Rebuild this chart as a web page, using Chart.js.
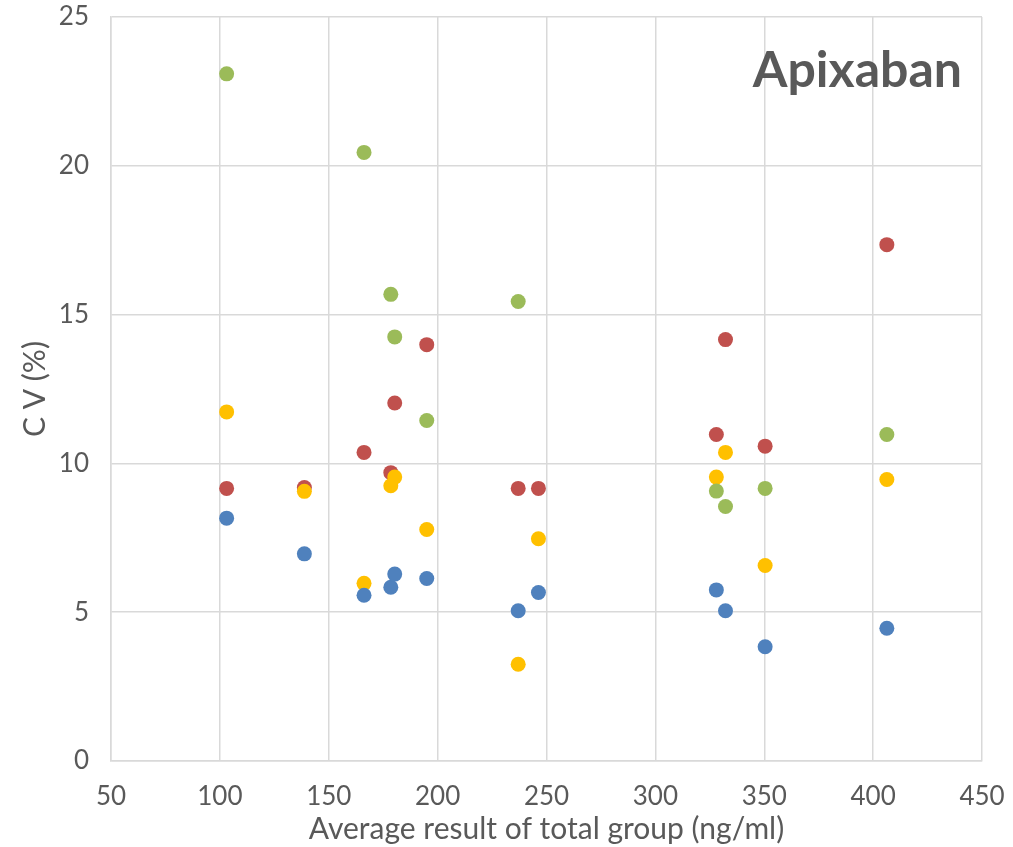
<!DOCTYPE html>
<html>
<head>
<meta charset="utf-8">
<script src="https://cdn.jsdelivr.net/npm/chart.js@4"></script>
<style>
  html, body { margin: 0; padding: 0; background: #fff; }
  #wrap { width: 1013px; height: 847px; position: relative; }
</style>
</head>
<body>
<div id="wrap"><canvas id="c" width="1013" height="847"></canvas></div>
<script>
// Average result of total group (ng/ml) for each sample
const avgResult = [103.1, 138.8, 166.2, 178.5, 180.3, 195.0, 237.0, 246.3, 328.0, 332.2, 350.4, 406.3];

// CV (%) per group; null where no point is plotted
const cvBlue   = [8.16, 6.96, 5.57, 5.84, 6.28, 6.13, 5.05, 5.66, 5.75, 5.05, 3.84, 4.46];
const cvRed    = [9.16, 9.19, 10.37, 9.69, 12.03, 13.99, 9.16, 9.16, 10.97, 14.16, 10.58, 17.35];
const cvYellow = [11.73, 9.06, 5.97, 9.25, 9.54, 7.78, 3.25, 7.47, 9.54, 10.37, 6.57, 9.46];
const cvGreen  = [23.09, null, 20.45, 15.68, 14.25, 11.44, 15.44, null, 9.07, 8.55, 9.16, 10.97];

const xTicks = [50, 100, 150, 200, 250, 300, 350, 400, 450];
const yTicks = [0, 5, 10, 15, 20, 25];
const chartTitle = 'Apixaban';

const toPoints = vals => avgResult.map((x, i) => ({ x, y: vals[i] })).filter(p => p.y !== null);

const textGrey = '#595959';
const gridGrey = '#d9d9d9';
const font = 'Lato, "Open Sans", sans-serif';

const series = [
  { label: 'Green',  values: cvGreen,  color: '#9bbb59' },
  { label: 'Blue',   values: cvBlue,   color: '#4f81bd' },
  { label: 'Yellow', values: cvYellow, color: '#ffc000' },
  { label: 'Red',    values: cvRed,    color: '#c0504d' }
];

// Bold drug name in the upper-right corner of the plot area
const cornerTitle = {
  id: 'cornerTitle',
  afterDatasetsDraw(chart) {
    const { ctx, chartArea } = chart;
    ctx.save();
    ctx.font = 'bold 50px ' + font;
    ctx.fillStyle = textGrey;
    ctx.textAlign = 'right';
    ctx.textBaseline = 'alphabetic';
    ctx.fillText(chartTitle, chartArea.right - 20, 87);
    ctx.restore();
  }
};

new Chart(document.getElementById('c'), {
  type: 'scatter',
  data: {
    datasets: series.map(s => ({
      label: s.label,
      data: toPoints(s.values),
      backgroundColor: s.color,
      borderColor: s.color,
      borderWidth: 0,
      pointRadius: 7.5,
      pointHoverRadius: 7.5
    }))
  },
  options: {
    responsive: false,
    animation: false,
    layout: { padding: { top: 17, right: 31, left: 0, bottom: 0 } },
    plugins: { legend: { display: false }, tooltip: { enabled: false } },
    scales: {
      x: {
        type: 'linear',
        min: 50, max: 450,
        afterBuildTicks: axis => { axis.ticks = xTicks.map(v => ({ value: v })); },
        afterFit: axis => { axis.height = 86; axis.paddingLeft = 0; axis.paddingRight = 0; },
        grid: { color: gridGrey, lineWidth: 1.5, drawTicks: false },
        border: { color: gridGrey, width: 1.5 },
        ticks: { color: textGrey, font: { family: font, size: 26 }, padding: 20, maxRotation: 0 },
        title: { display: true, text: 'Average result of total group (ng/ml)', color: textGrey,
                 font: { family: font, size: 30 }, padding: { top: 2, bottom: 0 } }
      },
      y: {
        type: 'linear',
        min: 0, max: 25,
        afterBuildTicks: axis => { axis.ticks = yTicks.map(v => ({ value: v })); },
        afterFit: axis => { axis.width = 111; axis.paddingTop = 0; axis.paddingBottom = 0; },
        grid: { color: gridGrey, lineWidth: 1.5, drawTicks: false },
        border: { color: gridGrey, width: 1.5 },
        ticks: { color: textGrey, font: { family: font, size: 26 }, padding: 22 },
        title: { display: true, text: 'C V (%)', color: textGrey,
                 font: { family: font, size: 30 }, padding: { top: 17, bottom: 0 } }
      }
    }
  },
  plugins: [cornerTitle]
});
</script>
</body>
</html>
